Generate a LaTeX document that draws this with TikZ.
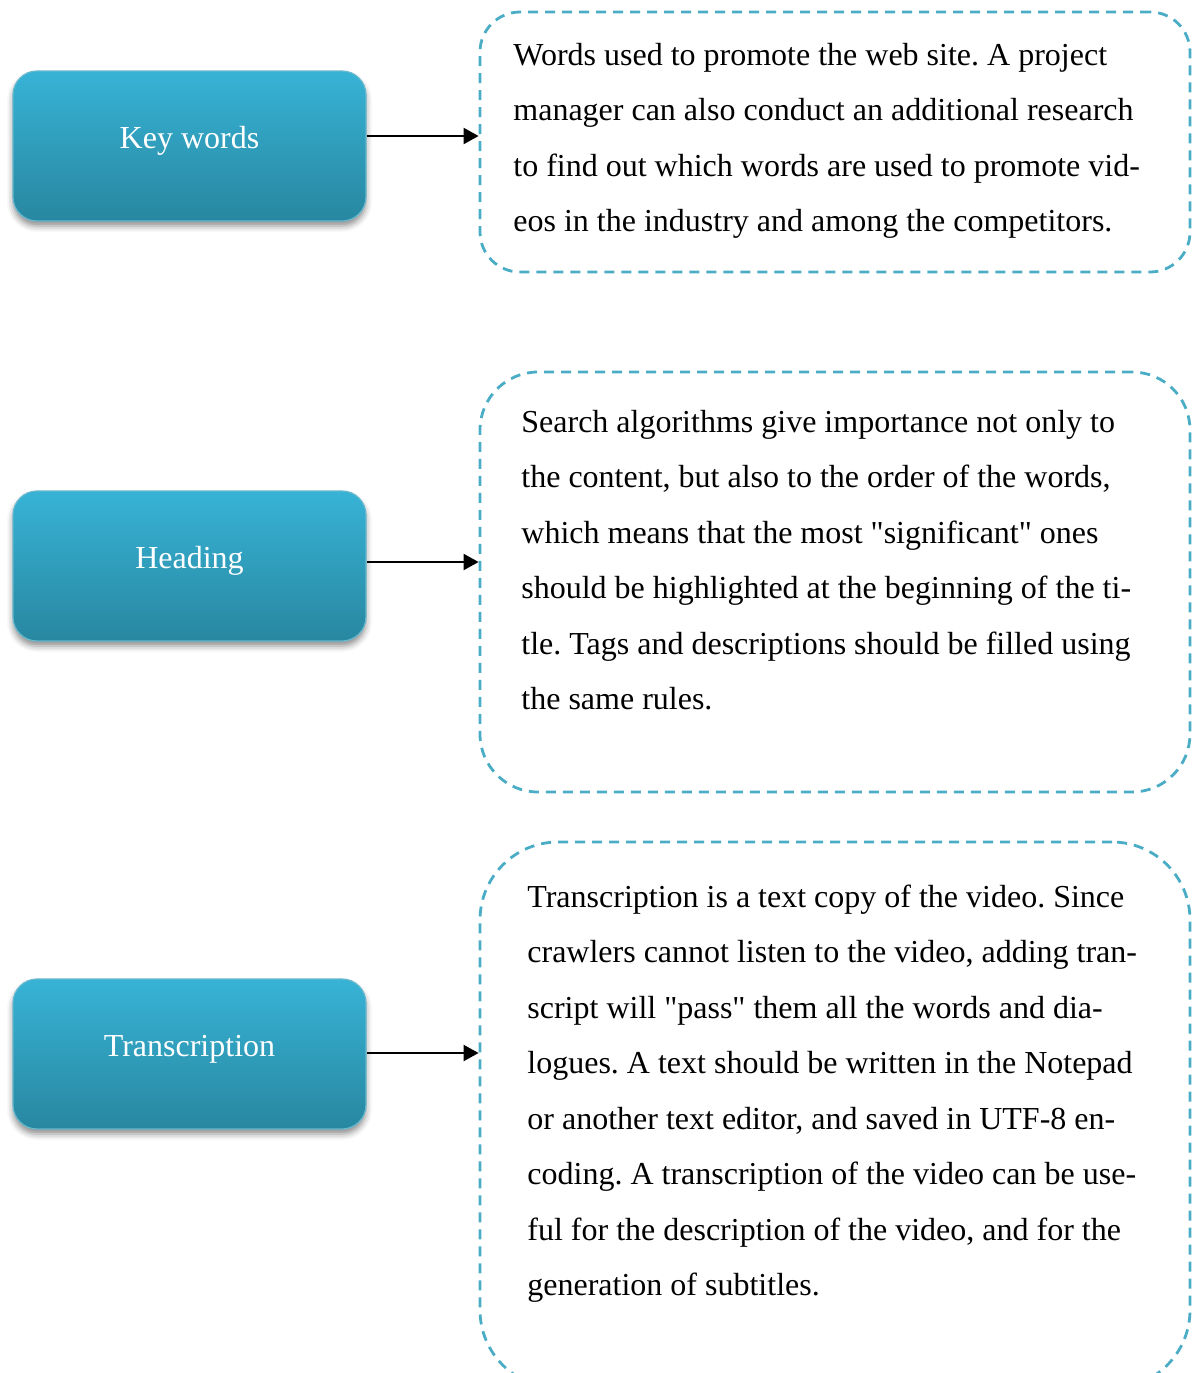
\documentclass[tikz,border=0pt]{standalone}
\usepackage{fontspec}
\setmainfont{Liberation Serif}
\usetikzlibrary{arrows.meta,shadows.blur}

\definecolor{aqua}{RGB}{75,172,198}
\definecolor{aquatop}{RGB}{55,179,214}
\definecolor{aquabot}{RGB}{40,135,160}

% plain word spacing for the description paragraphs
\newcommand\wordgaps{\spaceskip=0.25em plus 0.1em minus 0.05em\xspaceskip=\spaceskip}

\tikzset{
  topic/.style={rectangle, rounded corners=12pt, minimum width=176.5pt,
    minimum height=75pt, top color=aquatop, bottom color=aquabot,
    draw=aqua!85, line width=0.6pt,
    blur shadow={shadow xshift=0pt, shadow yshift=-2.5pt,
      shadow blur radius=3pt, shadow opacity=45}},
  topiclabel/.style={text=white, font=\fontsize{16}{19}\selectfont, inner sep=0pt},
  note/.style={rectangle, draw=aqua, line width=1.4pt,
    dash pattern=on 5pt off 3.5pt, minimum width=355pt},
  notetext/.style={anchor=base west, inner sep=0pt, text width=330pt,
    font=\fontsize{16}{27.78}\selectfont\frenchspacing},
  link/.style={-{Triangle[length=7.5pt,width=8pt]}, line width=1pt},
}

\begin{document}
\begin{tikzpicture}[x=0.5pt,y=-0.5pt]
\useasboundingbox (0,0) rectangle (1197,1373);

% left-hand topic boxes
\node[topic] (kw) at (189.5,146) {};
\node[topiclabel, anchor=base] (kwl) at ([yshift=-1pt]kw.center) {Key words};
\node[topic] (hd) at (189.5,566) {};
\node[topiclabel, anchor=base] (hdl) at ([yshift=-1pt]hd.center) {Heading};
\node[topic] (tr) at (189.5,1054) {};
\node[topiclabel, anchor=base] (trl) at ([yshift=-1pt]tr.center) {Transcription};

% dashed description boxes
\node[note, rounded corners=20pt, minimum height=130pt] (n1) at (835,142) {};
\node[note, rounded corners=29pt, minimum height=210pt] (n2) at (835,582) {};
\node[note, rounded corners=39pt, minimum height=273pt] (n3) at (835,1115) {};

% descriptions
\node[notetext] (t1) at (513,65) {\wordgaps Words used to promote the web site. A project\\
manager can also conduct an additional research\\
to find out which words are used to promote vid-\\
eos in the industry and among the competitors.};

\node[notetext] (t2) at (521,432) {\wordgaps Search algorithms give importance not only to\\
the content, but also to the order of the words,\\
which means that the most \textquotedbl significant\textquotedbl{} ones\\
should be highlighted at the beginning of the ti-\\
tle. Tags and descriptions should be filled using\\
the same rules.};

\node[notetext] (t3) at (527,907) {\wordgaps Transcription is a text copy of the video. Since\\
crawlers cannot listen to the video, adding tran-\\
script will \textquotedbl pass\textquotedbl{} them all the words and dia-\\
logues. A text should be written in the Notepad\\
or another text editor, and saved in UTF-8 en-\\
coding. A transcription of the video can be use-\\
ful for the description of the video, and for the\\
generation of subtitles.};

% connectors
\coordinate (a1) at ([yshift=5pt]kw.east);
\coordinate (a2) at ([yshift=2pt]hd.east);
\coordinate (a3) at ([yshift=0.5pt]tr.east);
\draw[link] (a1) -- (a1 -| n1.west);
\draw[link] (a2) -- (a2 -| n2.west);
\draw[link] (a3) -- (a3 -| n3.west);
\end{tikzpicture}
\end{document}
